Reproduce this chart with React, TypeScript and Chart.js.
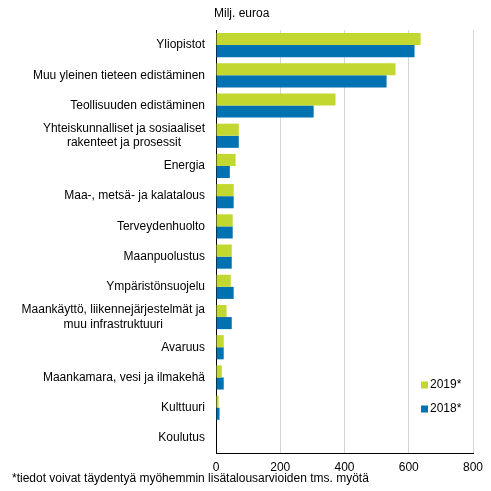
import { useEffect, useRef } from "react";
import { Chart, registerables } from "chart.js";
import type { Plugin } from "chart.js";

Chart.register(...registerables);

const categories: (string | string[])[] = [
  "Yliopistot",
  "Muu yleinen tieteen edistäminen",
  "Teollisuuden edistäminen",
  ["Yhteiskunnalliset ja sosiaaliset", "rakenteet ja prosessit"],
  "Energia",
  "Maa-, metsä- ja kalatalous",
  "Terveydenhuolto",
  "Maanpuolustus",
  "Ympäristönsuojelu",
  ["Maankäyttö, liikennejärjestelmät ja", "muu infrastruktuuri"],
  "Avaruus",
  "Maankamara, vesi ja ilmakehä",
  "Kulttuuri",
  "Koulutus",
];

const values2019 = [637, 559, 372, 71, 61, 55, 52, 49, 46, 33, 24, 18, 8, 0];
const values2018 = [618, 531, 304, 71, 43, 55, 52, 49, 55, 49, 24, 24, 11, 0];

const seriesNames = ["2019*", "2018*"];
const xTicks = [0, 200, 400, 600, 800];

const GREEN = "#C2D72F";
const BLUE = "#0071B1";
const FONT = "'Liberation Sans', Arial, sans-serif";

// category labels: block right-aligned, lines centred on each other
const categoryLabels: Plugin<"bar"> = {
  id: "categoryLabels",
  afterDraw(chart) {
    const ctx = chart.ctx;
    const y = chart.scales.y;
    const right = y.right - 11;
    ctx.save();
    ctx.font = `12px ${FONT}`;
    ctx.fillStyle = "#000";
    ctx.textBaseline = "middle";
    ctx.textAlign = "center";
    categories.forEach((lab, i) => {
      const lines = Array.isArray(lab) ? lab : [lab];
      const w = Math.max(...lines.map((l) => ctx.measureText(l).width));
      const cx = right - w / 2;
      const cy = y.getPixelForTick(i);
      const lh = 14.5;
      lines.forEach((l, j) => {
        ctx.fillText(l, cx, cy + (j - (lines.length - 1) / 2) * lh);
      });
    });
    ctx.restore();
  },
};

// legend drawn inside the plot, lower right
const legendInside: Plugin<"bar"> = {
  id: "legendInside",
  afterDraw(chart) {
    const ctx = chart.ctx;
    ctx.save();
    ctx.font = `12px ${FONT}`;
    ctx.textBaseline = "middle";
    chart.data.datasets.forEach((ds, i) => {
      const y = 385 + i * 24;
      ctx.fillStyle = ds.backgroundColor as string;
      ctx.fillRect(421, y - 3.5, 7, 7);
      ctx.fillStyle = "#000";
      ctx.fillText(ds.label ?? "", 430, y);
    });
    ctx.restore();
  },
};

export default function App() {
  const canvasRef = useRef<HTMLCanvasElement>(null);

  useEffect(() => {
    const canvas = canvasRef.current;
    if (!canvas) return;

    const chart = new Chart(canvas, {
      type: "bar",
      data: {
        labels: categories,
        datasets: [
          { label: seriesNames[0], data: values2019, backgroundColor: GREEN },
          { label: seriesNames[1], data: values2018, backgroundColor: BLUE },
        ],
      },
      options: {
        indexAxis: "y",
        animation: false,
        responsive: false,
        layout: { padding: { top: 30, right: 18, bottom: 14, left: 0 } },
        datasets: { bar: { categoryPercentage: 0.8, barPercentage: 1 } },
        plugins: {
          legend: { display: false },
          tooltip: { enabled: false },
        },
        scales: {
          x: {
            min: 0,
            max: 800,
            afterFit: (s) => {
              s.height = 24;
            },
            afterBuildTicks: (s) => {
              s.ticks = xTicks.map((v) => ({ value: v }));
            },
            grid: {
              color: "#d4d4d4",
              drawTicks: false,
            },
            border: { color: "#000", width: 1 },
            ticks: {
              padding: 7,
              color: "#000",
              font: { family: FONT, size: 12 },
            },
          },
          y: {
            afterFit: (s) => {
              s.width = 216;
            },
            grid: { display: false, drawTicks: false },
            border: { color: "#000", width: 1 },
            ticks: { display: false, autoSkip: false },
          },
        },
      },
      plugins: [categoryLabels, legendInside],
    });

    return () => chart.destroy();
  }, []);

  return (
    <div
      style={{
        position: "absolute",
        left: 0,
        top: 0,
        width: 491,
        height: 491,
        background: "#fff",
        fontFamily: FONT,
        color: "#000",
      }}
    >
      <canvas ref={canvasRef} width={491} height={491} />
      <div style={{ position: "absolute", left: 214, top: 6, fontSize: 12 }}>
        Milj. euroa
      </div>
      <div style={{ position: "absolute", left: 12, top: 471, fontSize: 12 }}>
        *tiedot voivat täydentyä myöhemmin lisätalousarvioiden tms. myötä
      </div>
    </div>
  );
}
